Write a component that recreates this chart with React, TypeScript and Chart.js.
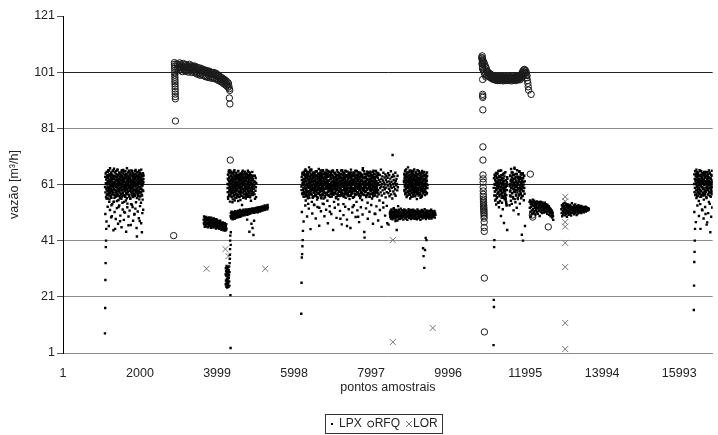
import React, { useEffect, useRef } from "react";
import { Chart, registerables } from "chart.js";

Chart.register(...registerables);

const FONT = '"Liberation Sans", Arial, Helvetica, sans-serif';

const seriesNames = ["LPX", "RFQ", "LOR"];
const xTickValues = [1, 2000, 3999, 5998, 7997, 9996, 11995, 13994, 15993];
const xMin = 1;
const xMax = 16862;
const yMin = 1;
const yMax = 121;
const yStep = 20;
const yTitle = "vazão [m³/h]";
const xTitle = "pontos amostrais";

// readings written in tenths of m³/h
const tenths = (s: string): number[] => s.trim().split(/\s+/).map((v) => Number(v) / 10);

// ---------- LPX runs (first sample number, sample spacing, readings) ----------
const lpxA_start = 1090, lpxA_step = 5.6;
const lpxA = tenths(`80 170 270 330 387 410 452 560 615 640 598 575
632 655 601 588 642 571 619 660 548 593 627 610 579 644 566 603 651 588 536 622
497 640 612 585 659 574 630 601 548 617 666 592 563 638 609 452 581 624 657 570
604 639 589 612 551 628 664 597 575 616 643 530 608 586 652 621 569 634 479 598
613 646 577 625 559 604 661 590 637 545 618 582 649 603 571 627 656 512 594 635
608 566 642 589 620 553 647 601 576 631 668 595 542 614 583 639 607 465 625 659
572 600 633 587 618 561 650 594 626 540 609 641 578 615 658 597 530 622 585 644
603 569 636 612 590 505 648 619 574 631 662 586 547 607 640 593 425 621 655 578
611 634 568 602 646 589 624 557 638 480 600 652 617 583 629 545 663 596 612 440 571 639 606 588 650 520 619 642`);

const lpxA2_start = 1093, lpxA2_step = 5.0;
const lpxA2 = tenths(`601 637 582 649 615 566 628 593 655 574 610 641 587 622 560 634 598 661 579 613
646 590 625 557 639 603 668 584 618 571 632 596 652 563 609 627 589 644 576 620
605 658 581 636 594 615 549 641 607 629 572 653 590 617 638 566 601 625 584 647
612 578 635 599 660 569 621 588 643 605 555 630 594 616 651 582 608 637 563 624
597 642 575 613 589 655 604 628 567 640 592 619 580 633 610 662 573 599 626 548
618 645 586 603 631 570 657 595 614 637 579 609 648 561 622 590 640 606 584 629
653 575 616 598 635 567 621 645 588 607 632 559 643 601 618 583 660 596 627 571
639 612 587 650 604 624 565 633 594 615 642 577 608 628 590 657 570 619 603 636
582 646 611 596 625 562 638 607 585 653 618 574 631 599 641 588 614 660 579 622
602 635 567 647 593 619 628 581 610 644 573 606 638 591 625 556 649 613 587 630`);

const lpxAd_start = 1100, lpxAd_step = 30;
const lpxAd = tenths(`505 478 531 462 519 493 540 447 512 487 526 470 535 499 458 521 484 510 442 529
496 517 466 538 481 503 524 455 514 490 533 472 508`);

const lpxB_start = 3650, lpxB_step = 6;
const lpxB = tenths(`485 472 496 468 481 459 490 476 463 487 470 494 478 461 483 469 491 474 458 486
472 489 465 480 493 467 477 462 488 471 484 456 479 492 466 475 483 460 487 470
468 481 457 476 489 463 474 485 459 472 480 466 478 453 486 469 462 477 484 458
471 466 480 455 473 461 478 468 452 475 464 470 481 457 467 474 460 449 472 463
458 470 466 452 475 461 447 469 456 464 450 472 459 446 466 455 462 448 469 453`);

const lpxCol_start = 4220, lpxCol_step = 3.5;
const lpxCol = tenths(`290 255 312 268 301 247 285 320 262 296 275 308 243 289 316 270 252 299 281 314
260 292 246 305 277 287 318 265 250 298 330 345 360 380 410 428 216 28 395 440`);

const lpxC_start = 4270, lpxC_step = 5.8;
const lpxC = tenths(`612 583 645 559 627 598 660 571 634 590 618 549 652 603 575 639 621 588 656 565
610 631 547 597 648 580 624 568 642 606 589 661 553 617 636 574 602 650 586 629
563 615 644 595 572 638 608 657 551 621 585 633 599 646 567 612 579 640 555 603
625 591 648 570 617 537 634 596 659 582 609 645 564 622 588 631 505 614 651 576
600 637 560 626 594 649 573 611 485 640 587 619 566 632 603 654 578 598 442 621
645 569 608 588 635 552 616 470 593 628 574 610 455 639 582 605 430 622 596 481
610 575 641 559 620 588 633 600 565 615`);

const lpxC2_start = 4273, lpxC2_step = 5.3;
const lpxC2 = tenths(`597 631 566 645 610 582 654 621 574 638 603 588 660 615 569 627 593 642 579 612
650 585 624 601 636 557 618 647 590 606 631 572 655 598 614 583 640 562 626 609
593 651 577 620 604 637 568 645 589 612 629 575 658 600 619 584 643 565 627 607
596 634 578 649 613 588 622 570 640 602 616 653 581 628 595 609 637 563 646 591
618 574 631 605 656 586 623 598 641 567 612 630 580 648 603 621 576 636 594 659
570 615 643 588 607 626 583 639 599 652 564 617 632 590 610 644 578 624 601 635
587 655 612 572 629 596 641 580 619 606`);

const lpxD_start = 4350, lpxD_step = 7.5;
const lpxD = tenths(`497 508 490 513 501 494 510 486 505 498 512 492 503 509 488 500 515 495 506 491
511 502 496 514 499 507 493 517 504 498 512 506 495 519 501 510 497 514 508 502
516 499 511 505 520 503 509 514 500 517 506 512 521 504 510 515 507 519 502 513
518 509 522 505 514 511 520 507 516 523 510 515 508 521 513 518 525 511 516 520
514 524 509 519 522 513 526 517 512 521 527 515 519 524 511 528 518 522 516 526
520 529 514 523 527 519 525 531 517 522 528 521 532 518 526 530 523 527 535 520
529 533 524 528 531 526 534 522 537 528`);

const lpxE_start = 6185, lpxE_step = 7.2;
const lpxE = tenths(`150 260 350 362 390 412 445 580 620 655
612 648 577 630 596 664 553 621 589 642 570 607 655 584 629 541 616 598 671 563
635 602 587 649 575 619 660 592 548 626 609 640 567 598 653 581 622 537 644 605
590 631 569 657 612 584 638 556 621 603 647 578 614 665 590 527 632 609 573 643
598 624 561 651 587 616 639 572 605 658 593 540 628 611 580 646 564 619 601 635
579 662 596 614 552 637 606 585 649 570 623 598 642 513 611 589 655 576 630 604
567 644 592 618 660 581 607 635 548 621 595 652 578 612 639 566 603 628 590 661
574 617 643 557 609 632 586 650 569 624 597 488 638 613 581 647 602 571 626 655
589 615 540 633 604 646 577 621 594 659 563 610 637 585 618 462 642 599 573 629
608 651 584 616 558 640 595 623 570 663 602 636 579 611 645 530 620 597 587 653
566 628 614 641 590 605 575 657 618 548 632 600 646 583 622 495 609 638 571 650
594 617 562 635 603 644 580 626 612 555 639 597 668 574 615 633 588 606 421 647
583 620 602 638 569 613 656 591 627 545 610 642 578 617 600 652 566 631 589 610
625 576 643 598 612 560 637 591 654 580 619 605 647 571 628 594 636 505 611 658
586 622 600 641 567 615 633 590 649 575 608 626 553 644 597 619 582 663 603 630
571 612 639 589 624 545 652 601 617 578 635 593 610 646 564 627 599 640 583 618
472 634 606 650 579 621 595 643 568 613 588 631 604 657 575 620 598 637 560 715
611 645 585 626 602 639 576 616 593 652 570 623 607 630 448 612 589 641 600 533`);

const lpxEb_start = 6188, lpxEb_step = 8.3;
const lpxEb = tenths(`603 637 578 651 615 590 628 566 644 609 583 659 621 597 636 572 648 612 588 630
561 642 605 625 579 655 598 617 638 585 609 664 574 627 601 646 590 619 633 568
612 650 586 624 599 641 575 608 657 592 620 637 563 615 603 645 581 629 596 652
571 618 640 589 606 633 577 661 598 623 585 647 610 569 636 594 616 653 580 627
602 643 573 614 658 591 624 587 639 605 566 631 597 649 583 620 608 641 575 656
593 612 634 578 625 600 648 587 617 562 639 604 629 592 654 570 615 637 584 606
645 597 622 574 660 589 611 632 579 643 601 626 567 650 594 618 638 585 609 657
576 623 603 641 590 614 631 568 646 598 620 583 652 607 635 573 616 594 640 587
628 563 611 649 596 621 578 637 605 659 588 615 630 575 643 600 624 581 654 610
592 636 570 618 603 647 585 626 596 640 578 613 662 590 621 606 635 572 648 598
617 586 633 565 608 645 594 627 580 651 612 597 639 574 620 604 656 589 630 577
642 609 593 624 568 636 601 648 585 615 631 579 657 595 622 607 640 583 612 644`);

const lpxEc_start = 6190.5, lpxEc_step = 8.3;
const lpxEc = tenths(`590 626 609 645 574 617 598 653 584 631 605 640 567 621 593 658 579 612 636 600
648 586 624 571 639 603 615 662 591 628 577 643 608 596 634 563 619 651 582 610
637 597 625 574 656 604 618 589 642 566 630 611 595 649 578 622 606 638 584 613
660 592 627 571 645 601 616 587 634 560 623 608 652 580 614 640 596 629 575 647
605 619 583 637 598 655 569 624 611 590 643 577 615 632 602 658 586 621 604 639
573 628 596 650 581 617 607 635 562 644 593 612 626 578 654 600 619 588 641 571
633 609 595 647 583 620 603 661 576 625 614 590 638 567 651 599 616 629 585 642
606 574 623 594 656 580 611 635 598 620 570 646 587 613 631 602 653 579 624 609
594 640 565 617 627 588 649 604 572 633 597 621 610 658 583 636 595 612 644 576
628 601 615 589 652 569 639 606 623 581 645 597 614 632 575 657 592 618 637 600
584 624 608 647 573 611 630 596 655 579 620 603 641 566 626 593 650 587 613 634
599 621 578 643 605 659 588 617 632 571 646 601 623 584 637 609 594 652 580 615`);

const lpxEd_start = 6200, lpxEd_step = 45;
const lpxEd = tenths(`512 478 535 496 524 451 507 538 489 530 463 515 542 497 520 472 533 505 448 527
491 539 516 468 501 531 485 522 455 510 536 494 518 476 529 503 441 525 488 513
537 470 506 532 482 519 459 528 499 534 467 511 493 526 480`);

const lpxE2_start = 8485, lpxE2_step = 8.5;
const lpxE2 = tenths(`508 495 517 489 502 521 493 510 486 514 499 505 523 491 508 497 515 488 503 519
494 511 500 482 516 506 492 520 498 509 487 513 501 524 495 507 490 518 503 496
512 485 509 499 521 493 505 515 489 502 518 496 510 484 507 513 498 522 491 504
516 494 509 500 487 519 505 497 513 490 506 520 495 502 511 488 517 499 508 493
514 503 486 510 521 496 505 517 490 501 512 498 508 484 515 494 506 519 500 489
511 497 516 503 492 509 522 495 504 513 487 507 518 499 494 510 502 515 491 505
498 517 508 493 512 500 520 489 506 515 497 503 511 494 508 500 516 492 509 502`);

const lpxE2b_start = 8489, lpxE2b_step = 29;
const lpxE2b = tenths(`503 497 511 492 506 515 499 508 488 513 501 495 518 504 491 509 497 512 502 494
507 516 499 490 511 504 496 509 500 514 493 506 498 510 503 489 515 501 497 508`);

const lpxE3_start = 8850, lpxE3_step = 6.2;
const lpxE3 = tenths(`622 648 591 635 607 660 579 617 643 596 628 565 652 604 637 585 619 671 598 641
573 626 609 655 588 632 560 614 645 599 623 580 659 606 638 592 616 567 649 601
630 586 612 664 595 627 571 640 603 618 583 651 610 636 558 624 597 645 578 613
633 590 657 606 620 574 642 599 628 563 615 648 587 631 604 568 652 595 621 610
383 639 355 582 626 313 605 644 377 590 615 420 633 598 412 622 580 640 597 608`);

const lpxE3b_start = 8853, lpxE3b_step = 5.0;
const lpxE3b = tenths(`618 645 587 630 603 657 575 622 640 594 612 664 581 627 608 649 570 635 597 618
653 585 624 600 642 578 615 631 592 660 573 621 606 646 588 613 637 566 629 602
650 582 619 595 641 574 626 609 657 590 614 633 579 645 600 622 587 638 568 611
655 596 628 604 643 576 617 591 636 609 661 584 624 598 647 571 620 607 632 589
613 652 580 626 601 644 574 618 593 637 566 629 605 658 586 615 640 597 622 578
649 603 631 587 612 655 594 627 572 641 608 619 583 646 600 634 576 624 610 653`);

const lpxF1_start = 11175, lpxF1_step = 5.2;
const lpxF1 = tenths(`38 199 174 387 412 612 585 640 553 627 598 571 651 539 616 590 634 562 605 648
577 620 546 597 658 583 611 529 640 568 603 625 551 589 636 574 615 498 660 592
581 627 545 609 570 644 522 598 618 563 631 586 473 612 650 557 601 592 576 569
561 557 550 546 540 535 618 605 448 630`);

const lpxF1b_start = 11178, lpxF1b_step = 8;
const lpxF1b = tenths(`598 632 571 645 609 586 623 557 640 594 617 566 651 603 580 628 545 612 637 592
659 574 620 601 588 643 563 615 633 579 606 648 595 622 568 639 610 585 654 600
625 572 613 590 636`);

const lpxF2_start = 11590, lpxF2_step = 5.8;
const lpxF2 = tenths(`536 604 571 642 589 623 552 665 598 617 541 635 580 609 653 566 627 595 518 644
585 612 670 558 631 600 547 648 591 620 574 639 527 605 661 582 616 563 634 596
504 628 571 655 609 588 542 637 599 619 576 650 561 613 592 431 624 603 645 569
410 632 587 610 554 641 598 577 621 462`);

const lpxF2b_start = 11593, lpxF2b_step = 8.5;
const lpxF2b = tenths(`612 585 640 567 627 598 653 579 619 604 644 560 631 592 617 666 583 609 636 571
624 601 648 589 613 558 638 596 621 575 657 606 629 582 645 594 616 569 633 603
650 587 620 598 641`);

const lpxG_start = 12110, lpxG_step = 6.9;
const lpxG = tenths(`548 527 553 512 540 496 531 550 518 544 505 536 556 522 547 509 533 552 515 541
527 548 503 537 519 545 530 511 550 524 539 506 543 529 516 547 534 521 498 540
526 549 513 535 544 520 531 508 546 525 538 517 542 529 510 536 523 545 515 532
527 540 512 535 521 529 506 538 518 531 524 514 533 502 527 520 509 525 516 497
521 508 513 502 517 492 506 510 498 484`);

const lpxH_start = 12935, lpxH_step = 7.2;
const lpxH = tenths(`522 508 536 497 529 515 541 503 524 533 510 519 544 500 527 513 538 506 521 531
495 516 540 509 525 534 502 518 529 512 537 505 523 514 532 499 527 519 543 508
520 530 511 526 516 535 504 522 528 513 539 509 524 517 531 501 520 533 514 527
507 521 536 512 525 518 530 510 523 528 515 534 508 521 526 517 531 513 524 519
527 511 522 529 516 525 519 531 514 523 520 528 517 525 521 526 518 523 520 524`);

const lpxI_start = 16372, lpxI_step = 6.2;
const lpxI = tenths(`163 250 334 370 410 452 598 627 575 648 611 562 636 589 654 603 570 622 643 584
615 551 630 597 661 578 619 540 641 606 587 657 568 624 600 633 518 612 650 580
595 628 556 644 609 573 637 591 622 505 655 584 616 562 639 602 475 626 590 647
575 613 634 548 620 598 652 581 607 440 630 566 643 595 618 586 659 528 611 601`);

const lpxIb_start = 16378, lpxIb_step = 5.5;
const lpxIb = tenths(`612 646 583 630 598 657 572 621 640 589 615 663 578 627 603 648 568 635 594 619
652 582 624 607 642 575 613 631 590 659 566 622 605 645 587 616 638 573 628 600
651 579 620 596 643 571 625 609 655 585 614 633 576 647 599 621 588 639 565 611
654 597 629 603 644 574 618 592 636 608 660 583 623 597 649 570 617 606 632 589
612 645 580 626 601 641 575 619`);

const lpxId_start = 16385, lpxId_step = 40;
const lpxId = tenths(`512 476 535 498 452 521 489 530 467 508 541 495`);

// ---------- RFQ runs ----------
const rfqCol1_start = 2893, rfqCol1_step = 1.5;
const rfqCol1 = tenths(`1044 1038 1031 1024 1016 1008 1000 992 984 976 968 959 950 941 932 923 915 836`);

const rfqBand1_start = 2960, rfqBand1_step = 11.5;
const rfqBand1 = tenths(`1040 1022 1036 1015 1031 1027 1043 1018 1029 1038 1020 1033 1012 1028 1041 1019 1025 1036 1014 1030
1037 1013 1026 1034 1017 1030 1010 1024 1038 1015 1027 1020 1033 1009 1023 1031 1014 1027 1018 1032
1008 1024 1013 1029 1005 1019 1027 1002 1016 1025 1007 1021 999 1015 1024 1003 1014 1020 1000 1012
1019 997 1011 1017 994 1009 1016 996 1007 1013 991 1006 1014 995 1004 1011 989 1003 1009 993
1007 988 1002 1009 990 1003 986 1000 1006 988 999 983 1001 994 980 997 990 978 993 985
976 990 983 972 987 980 968 984 976 965 980 971 961 976 966 956 971 960 951 945`);

const rfqCol2_start = 10880, rfqCol2_step = 1.5;
const rfqCol2 = tenths(`1068 1060 1052 1045 1038 1030 1022 984 931 925 920 876 744 697 644 630 618 600 587 575
566 558 551 545 540 535 530 526 521 516 511 505 498 490 476 457 443 277 85`);

const rfqBand2_start = 10865, rfqBand2_step = 10;
const rfqBand2 = tenths(`1062 1040 1055 1025 1050 1015 1044 1008 1038 1000 1030 993 1024 1016 998 1012
1010 998 1008 995 1006 993 1003 991 1002 989 1000 987 998 985 997 986 996 984
995 983 992 981 990 996 982 991 980 994 988 982 993 986 996 980 990 984 994 981
992 985 979 993 988 982 995 984 990 980 992 986 996 982 988 993 984 980 991 986
995 982 990 985 979 993 988 997 983 991 981 990 986 995 980 988 993 984 996 989
982 991 986 995 987 998 983 992
997 1002 990 1008 996 1013 1000 1018 1005 1020 1010 1004 1016 998 1009 990 998 980 970 958 946`);

const rfqSingleX = [2872, 4318, 4332, 4342, 12129, 12150, 12181, 12190, 12595];
const rfqSingleY = [42.8, 91.8, 89.7, 69.7, 64.7, 93.1, 50.1, 49.4, 45.9];

// ---------- LOR readings ----------
const lorX = [3725, 4216, 4294, 5250, 8561, 8561, 9595, 13034, 13034, 13034, 13034, 13034, 13034, 13034, 13034];
const lorY = [31, 38, 35.5, 31, 41.2, 4.9, 9.9, 56.6, 55, 47.6, 46, 40.2, 31.6, 11.7, 2.4];

type Run = [number, number, number[]];

const lpxRuns: Run[] = [
  [lpxA_start, lpxA_step, lpxA],
  [lpxA2_start, lpxA2_step, lpxA2],
  [lpxAd_start, lpxAd_step, lpxAd],
  [lpxB_start, lpxB_step, lpxB],
  [lpxCol_start, lpxCol_step, lpxCol],
  [lpxC_start, lpxC_step, lpxC],
  [lpxC2_start, lpxC2_step, lpxC2],
  [lpxD_start, lpxD_step, lpxD],
  [lpxE_start, lpxE_step, lpxE],
  [lpxEb_start, lpxEb_step, lpxEb],
  [lpxEc_start, lpxEc_step, lpxEc],
  [lpxEd_start, lpxEd_step, lpxEd],
  [lpxE2_start, lpxE2_step, lpxE2],
  [lpxE2b_start, lpxE2b_step, lpxE2b],
  [lpxE3_start, lpxE3_step, lpxE3],
  [lpxE3b_start, lpxE3b_step, lpxE3b],
  [lpxF1_start, lpxF1_step, lpxF1],
  [lpxF1b_start, lpxF1b_step, lpxF1b],
  [lpxF2_start, lpxF2_step, lpxF2],
  [lpxF2b_start, lpxF2b_step, lpxF2b],
  [lpxG_start, lpxG_step, lpxG],
  [lpxH_start, lpxH_step, lpxH],
  [lpxI_start, lpxI_step, lpxI],
  [lpxIb_start, lpxIb_step, lpxIb],
  [lpxId_start, lpxId_step, lpxId],
];
const rfqRuns: Run[] = [
  [rfqCol1_start, rfqCol1_step, rfqCol1],
  [rfqBand1_start, rfqBand1_step, rfqBand1],
  [rfqCol2_start, rfqCol2_step, rfqCol2],
  [rfqBand2_start, rfqBand2_step, rfqBand2],
];

const runsToPoints = (runs: Run[]) =>
  runs.flatMap(([start, step, vals]) => vals.map((y, k) => ({ x: Math.round(start + k * step), y })));
const pairsToPoints = (xs: number[], ys: number[]) => xs.map((x, i) => ({ x, y: ys[i] }));

const boxLegend = {
  id: "boxLegend",
  afterDraw(chart: any) {
    const { ctx } = chart;
    const sets = chart.data.datasets;
    ctx.save();
    ctx.font = `12px ${FONT}`;
    const mark = 6, gapItems = 6, padX = 4;
    const gapMT = [4, 1, 1];
    const widths = sets.map((d: any) => ctx.measureText(d.label).width);
    const contentW =
      widths.reduce((a: number, w: number, i: number) => a + mark + gapMT[i] + w, 0) + gapItems * (sets.length - 1);
    const boxW = Math.round(contentW + padX * 2);
    const boxH = 19;
    const cx = 383.5;
    const top = 414;
    const left = Math.round(cx - boxW / 2);
    ctx.strokeStyle = "#333";
    ctx.lineWidth = 1;
    ctx.strokeRect(left + 0.5, top + 0.5, boxW, boxH);
    let x = left + padX;
    const cy = top + boxH / 2 + 0.5;
    sets.forEach((d: any, i: number) => {
      const mx = x + mark / 2;
      ctx.lineWidth = 1;
      if (d.pointStyle === "rect") {
        ctx.fillStyle = "#000";
        ctx.fillRect(Math.round(mx) - 1, Math.round(cy) - 1, 2, 2);
      } else if (d.pointStyle === "circle") {
        ctx.strokeStyle = d.borderColor;
        ctx.beginPath();
        ctx.arc(mx, cy, 3, 0, Math.PI * 2);
        ctx.stroke();
      } else {
        ctx.strokeStyle = d.borderColor;
        ctx.beginPath();
        ctx.moveTo(mx - 3, cy - 3);
        ctx.lineTo(mx + 3, cy + 3);
        ctx.moveTo(mx + 3, cy - 3);
        ctx.lineTo(mx - 3, cy + 3);
        ctx.stroke();
      }
      x += mark + gapMT[i];
      ctx.fillStyle = "#222";
      ctx.textBaseline = "middle";
      ctx.textAlign = "left";
      ctx.fillText(d.label, x, cy);
      x += widths[i] + gapItems;
    });
    ctx.restore();
  },
};

export default function App() {
  const canvasRef = useRef<HTMLCanvasElement | null>(null);

  useEffect(() => {
    const canvas = canvasRef.current;
    if (!canvas) return;
    const tickFont = { family: FONT, size: 12.5 };
    const chart = new Chart(canvas, {
      type: "scatter",
      data: {
        datasets: [
          {
            label: seriesNames[0],
            data: runsToPoints(lpxRuns),
            pointStyle: "rect",
            pointRadius: 1.7,
            pointHoverRadius: 1.7,
            backgroundColor: "#000",
            borderColor: "#000",
            borderWidth: 0,
          },
          {
            label: seriesNames[1],
            data: runsToPoints(rfqRuns).concat(pairsToPoints(rfqSingleX, rfqSingleY)),
            pointStyle: "circle",
            pointRadius: 3.2,
            pointHoverRadius: 3.2,
            backgroundColor: "rgba(0,0,0,0)",
            borderColor: "#1a1a1a",
            borderWidth: 1,
          },
          {
            label: seriesNames[2],
            data: pairsToPoints(lorX, lorY),
            pointStyle: "crossRot",
            pointRadius: 4.3,
            pointHoverRadius: 4.3,
            backgroundColor: "#777",
            borderColor: "#777",
            borderWidth: 1,
          },
        ],
      } as any,
      options: {
        animation: false,
        responsive: true,
        maintainAspectRatio: false,
        events: [],
        layout: { padding: { left: 0, right: 2, top: 16, bottom: 22 } },
        plugins: { legend: { display: false }, tooltip: { enabled: false } },
        scales: {
          x: {
            type: "linear",
            min: xMin,
            max: xMax,
            afterBuildTicks: (s: any) => {
              s.ticks = xTickValues.map((v) => ({ value: v }));
            },
            afterFit: (s: any) => {
              s.height = 60;
            },
            grid: { display: false },
            border: { display: true, color: "#8c8c8c", width: 1 },
            ticks: {
              autoSkip: false,
              maxRotation: 0,
              padding: 5,
              color: "#222",
              font: tickFont,
              callback: (v: any) => String(v),
            },
            title: {
              display: true,
              text: xTitle,
              color: "#222",
              font: tickFont,
              padding: { top: 0, bottom: 17.5 },
            },
          },
          y: {
            type: "linear",
            min: yMin,
            max: yMax,
            afterFit: (s: any) => {
              s.width = 63;
            },
            ticks: { stepSize: yStep, padding: 2, color: "#222", font: tickFont },
            grid: {
              color: (c: any) => {
                const v = c.tick ? c.tick.value : 0;
                if (v === 121) return "rgba(0,0,0,0)";
                if (v === 61 || v === 101) return "#222";
                return "#8c8c8c";
              },
              tickColor: "#555",
              tickLength: 6,
              drawTicks: true,
            },
            border: { display: true, color: "#000", width: 1 },
            title: {
              display: true,
              text: yTitle,
              color: "#222",
              font: tickFont,
              padding: { top: 7.5, bottom: 0 },
            },
          },
        },
      } as any,
      plugins: [boxLegend],
    });
    return () => chart.destroy();
  }, []);

  return (
    <div style={{ position: "absolute", left: 0, top: 0, width: 718, height: 435, background: "#fff" }}>
      <canvas ref={canvasRef} />
    </div>
  );
}
